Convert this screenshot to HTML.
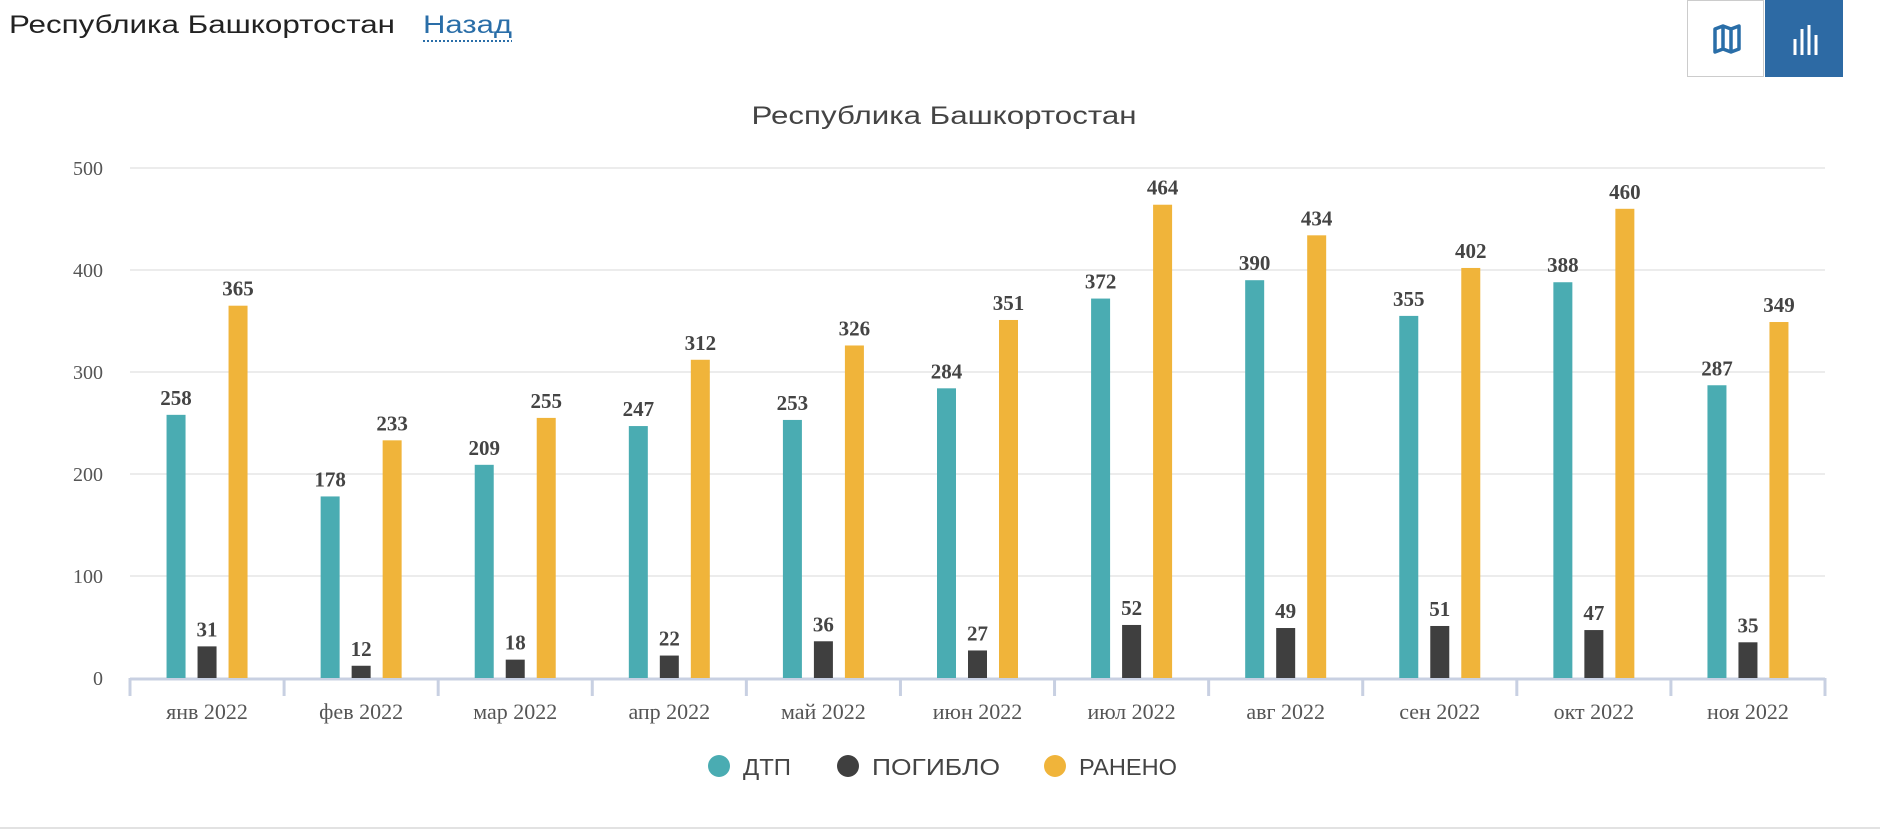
<!DOCTYPE html>
<html><head><meta charset="utf-8"><style>
body{margin:0;width:1880px;height:836px;background:#fff;overflow:hidden;font-family:"Liberation Sans",sans-serif;position:relative}
.btn{position:absolute;top:0;width:77px;height:77px;box-sizing:border-box;border:1px solid #ccc}
</style></head><body>
<svg width="560" height="50" style="position:absolute;left:0;top:0">
<text x="9" y="33" font-size="25" fill="#222" textLength="386" lengthAdjust="spacingAndGlyphs" font-family="Liberation Sans">Республика Башкортостан</text>
<text x="423" y="33" font-size="25" fill="#2a6ea8" textLength="89" lengthAdjust="spacingAndGlyphs" font-family="Liberation Sans">Назад</text>
<line x1="423" x2="512" y1="41" y2="41" stroke="#2a6ea8" stroke-width="2" stroke-dasharray="2,2"/>
</svg>
<div class="btn" style="left:1687px;background:#fff">
<svg width="77" height="77"><path d="M27 28 L35 25 L43 28 L51 25 L51 48 L43 51 L35 48 L27 51 Z M35 25 L35 48 M43 28 L43 51" fill="none" stroke="#2a6ea8" stroke-width="3.5" stroke-linejoin="round"/></svg></div>
<div class="btn" style="left:1765px;width:78px;background:#2d6aa4;border-color:#2d6aa4">
<svg width="78" height="77"><g stroke="#fff" stroke-width="3"><line x1="29" y1="54" x2="29" y2="38"/><line x1="36" y1="54" x2="36" y2="28"/><line x1="43" y1="54" x2="43" y2="24"/><line x1="50" y1="54" x2="50" y2="34"/></g></svg></div>
<svg id="chart" width="1880" height="836" style="position:absolute;left:0;top:0"></svg>
<script>
const categories=["янв 2022","фев 2022","мар 2022","апр 2022","май 2022","июн 2022","июл 2022","авг 2022","сен 2022","окт 2022","ноя 2022"];
const dtp=[258,178,209,247,253,284,372,390,355,388,287];
const killed=[31,12,18,22,36,27,52,49,51,47,35];
const injured=[365,233,255,312,326,351,464,434,402,460,349];
const yTicks=[0,100,200,300,400,500];
const seriesNames=["ДТП","ПОГИБЛО","РАНЕНО"];
const colors=["#4aacb2","#3f3f3f","#f0b43a"];
const NS="http://www.w3.org/2000/svg";
const svg=document.getElementById('chart');
const X0=130,X1=1825,Y0=678,Y500=168;
const bw=(X1-X0)/categories.length;
const y=v=>Y0-(v/500)*(Y0-Y500);
function mk(t,a,txt){const e=document.createElementNS(NS,t);for(const k in a)e.setAttribute(k,a[k]);if(txt!==undefined)e.textContent=txt;svg.appendChild(e);return e;}
let e=mk('text',{x:944,y:124,'text-anchor':'middle','font-size':25,fill:'#444','font-family':'Liberation Sans',textLength:385,lengthAdjust:'spacingAndGlyphs'},'Республика Башкортостан');


yTicks.forEach(t=>{
 if(t>0){const g=mk('line',{x1:X0,x2:X1,y1:y(t),y2:y(t),stroke:'#e6e6e6','stroke-width':1.5});
 
 }
 const l=mk('text',{x:103,y:y(t)+7,'text-anchor':'end','font-size':20,fill:'#555','font-family':'Liberation Serif'},t);
 
 
});
let ax=mk('line',{x1:X0,x2:X1,y1:Y0+1,y2:Y0+1,stroke:'#c8d0e2','stroke-width':3});


for(let i=0;i<=categories.length;i++){const tk=mk('line',{x1:X0+i*bw,x2:X0+i*bw,y1:Y0,y2:Y0+18,stroke:'#c8d0e2','stroke-width':3});
 
 }
const series=[dtp,killed,injured];
categories.forEach((c,i)=>{
 const cx=X0+(i+0.5)*bw;
 const l=mk('text',{x:cx,y:719,'text-anchor':'middle','font-size':22,fill:'#555','font-family':'Liberation Serif'},c);
 
 
 series.forEach((s,k)=>{
  const bx=cx+(k-1)*31-9.5;
  const r=mk('rect',{x:bx,y:y(s[i]),width:19,height:Y0-y(s[i]),fill:colors[k]});
  
  
  const v=mk('text',{x:bx+9.5,y:y(s[i])-10,'text-anchor':'middle','font-size':21,'font-weight':'bold',fill:'#444','font-family':'Liberation Serif'},s[i]);
  
  
 });
});
const lx=[719,848,1055];
const lw=[48,128,98];
seriesNames.forEach((n,k)=>{
 const c=mk('circle',{cx:lx[k],cy:766,r:11,fill:colors[k]});
 
 
 const t=mk('text',{x:lx[k]+24,y:775,'font-size':23,fill:'#444','font-family':'Liberation Sans',textLength:lw[k],lengthAdjust:'spacingAndGlyphs'},n);
 
 
});
const b=mk('line',{x1:0,x2:1880,y1:828,y2:828,stroke:'#e2e2e2','stroke-width':2});


</script>
</body></html>
